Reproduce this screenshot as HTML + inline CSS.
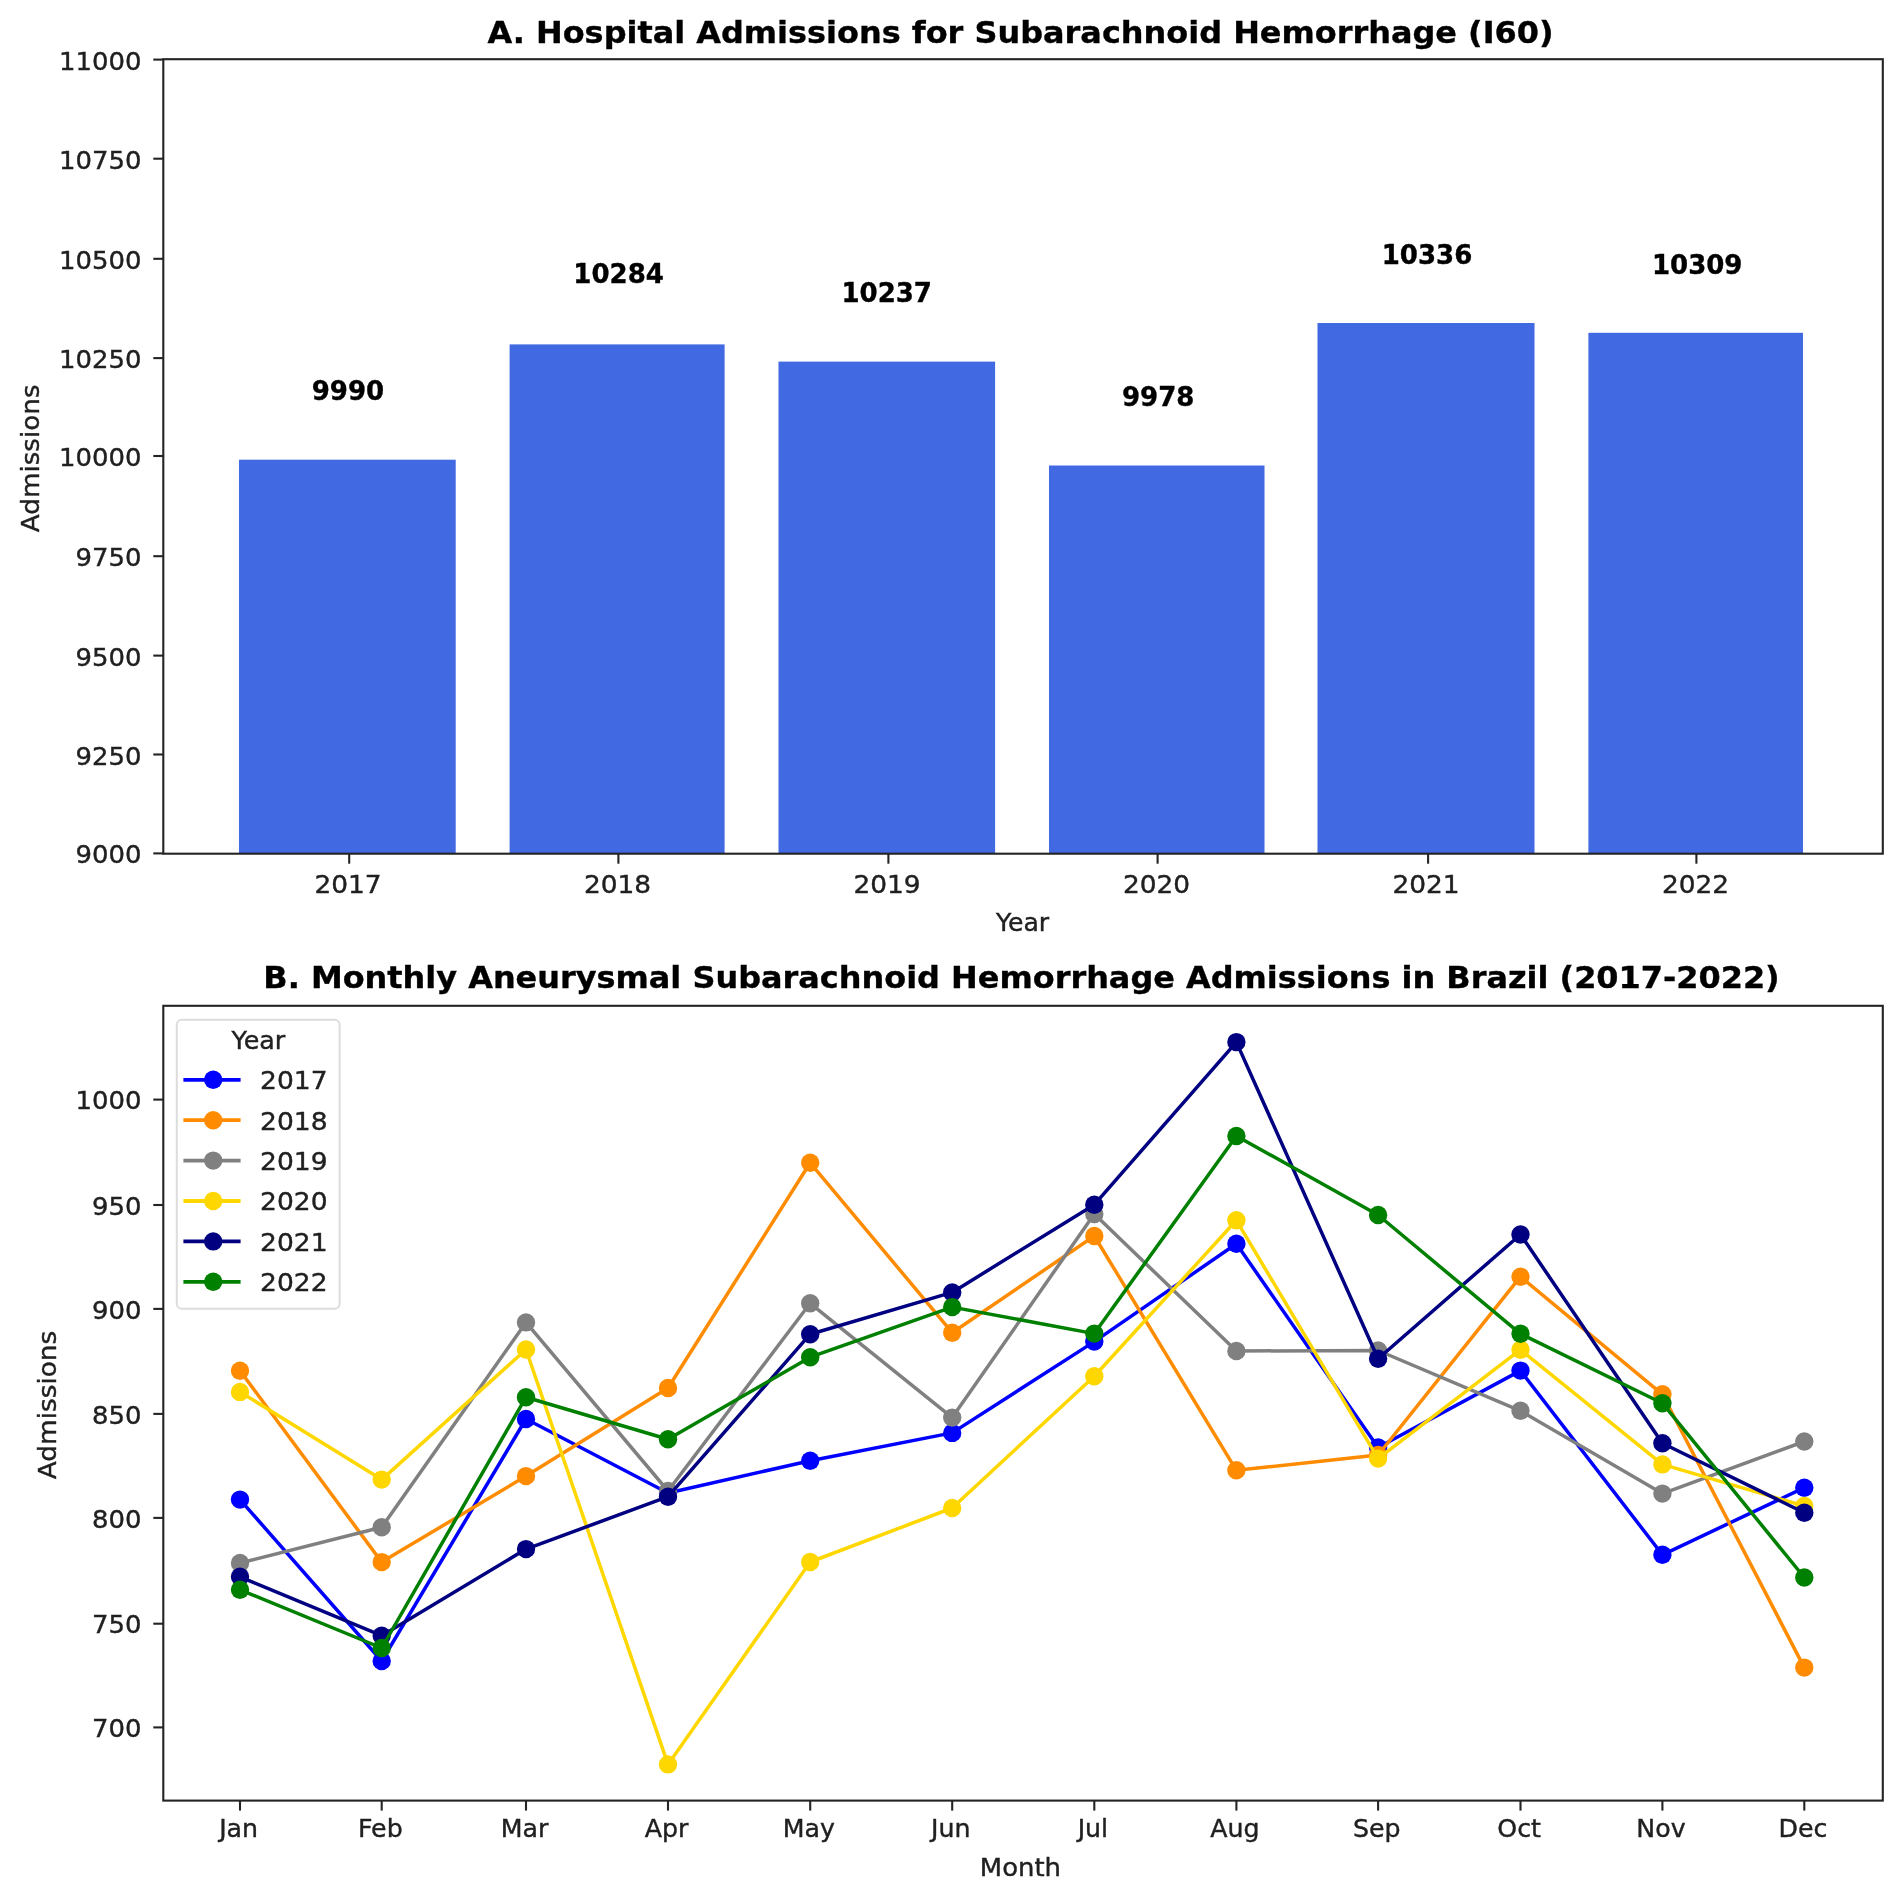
<!DOCTYPE html>
<html lang="en"><head><meta charset="utf-8"><title>Subarachnoid Hemorrhage Admissions</title>
<style>html,body{margin:0;padding:0;background:#fff;overflow:hidden}svg{display:block;filter:blur(0.6px)}</style></head>
<body>
<svg width="1902" height="1887" viewBox="0 0 1902 1887" font-family="'DejaVu Sans', 'Liberation Sans', sans-serif" fill="#202020">
<rect width="1902" height="1887" fill="#ffffff"/>
<g id="panelA">
<rect x="239.0" y="459.7" width="216.7" height="394.0" fill="#4169e1"/>
<rect x="509.6" y="344.4" width="215.0" height="509.3" fill="#4169e1"/>
<rect x="778.5" y="361.6" width="216.6" height="492.1" fill="#4169e1"/>
<rect x="1049.0" y="465.5" width="215.5" height="388.2" fill="#4169e1"/>
<rect x="1317.5" y="323.0" width="217.0" height="530.7" fill="#4169e1"/>
<rect x="1588.4" y="332.8" width="214.6" height="520.9" fill="#4169e1"/>
<rect x="163.3" y="59.2" width="1719.5" height="794.5" fill="none" stroke="#242424" stroke-width="2.1"/>
<line x1="153.3" x2="163.3" y1="853.4" y2="853.4" stroke="#242424" stroke-width="2.1"/>
<text transform="translate(141.5 863.4) scale(1.02 1)" font-size="25.4" text-anchor="end" stroke="#202020" stroke-width="0.4">9000</text>
<line x1="153.3" x2="163.3" y1="754.5" y2="754.5" stroke="#242424" stroke-width="2.1"/>
<text transform="translate(141.5 764.5) scale(1.02 1)" font-size="25.4" text-anchor="end" stroke="#202020" stroke-width="0.4">9250</text>
<line x1="153.3" x2="163.3" y1="655.6" y2="655.6" stroke="#242424" stroke-width="2.1"/>
<text transform="translate(141.5 665.6) scale(1.02 1)" font-size="25.4" text-anchor="end" stroke="#202020" stroke-width="0.4">9500</text>
<line x1="153.3" x2="163.3" y1="556.2" y2="556.2" stroke="#242424" stroke-width="2.1"/>
<text transform="translate(141.5 566.2) scale(1.02 1)" font-size="25.4" text-anchor="end" stroke="#202020" stroke-width="0.4">9750</text>
<line x1="153.3" x2="163.3" y1="456.0" y2="456.0" stroke="#242424" stroke-width="2.1"/>
<text transform="translate(141.5 466.0) scale(1.02 1)" font-size="25.4" text-anchor="end" stroke="#202020" stroke-width="0.4">10000</text>
<line x1="153.3" x2="163.3" y1="358.1" y2="358.1" stroke="#242424" stroke-width="2.1"/>
<text transform="translate(141.5 368.1) scale(1.02 1)" font-size="25.4" text-anchor="end" stroke="#202020" stroke-width="0.4">10250</text>
<line x1="153.3" x2="163.3" y1="258.8" y2="258.8" stroke="#242424" stroke-width="2.1"/>
<text transform="translate(141.5 268.8) scale(1.02 1)" font-size="25.4" text-anchor="end" stroke="#202020" stroke-width="0.4">10500</text>
<line x1="153.3" x2="163.3" y1="158.7" y2="158.7" stroke="#242424" stroke-width="2.1"/>
<text transform="translate(141.5 168.7) scale(1.02 1)" font-size="25.4" text-anchor="end" stroke="#202020" stroke-width="0.4">10750</text>
<line x1="153.3" x2="163.3" y1="59.6" y2="59.6" stroke="#242424" stroke-width="2.1"/>
<text transform="translate(141.5 69.6) scale(1.02 1)" font-size="25.4" text-anchor="end" stroke="#202020" stroke-width="0.4">11000</text>
<line x1="349.2" x2="349.2" y1="853.7" y2="863.7" stroke="#242424" stroke-width="2.1"/>
<text transform="translate(348.0 893.0) scale(1.04 1)" font-size="25.4" text-anchor="middle" stroke="#202020" stroke-width="0.4">2017</text>
<text transform="translate(347.9 399.8) scale(1.01 1)" font-size="25.8" text-anchor="middle" font-weight="bold" fill="#000" stroke="#000" stroke-width="0.35">9990</text>
<line x1="618.4" x2="618.4" y1="853.7" y2="863.7" stroke="#242424" stroke-width="2.1"/>
<text transform="translate(617.5 893.0) scale(1.04 1)" font-size="25.4" text-anchor="middle" stroke="#202020" stroke-width="0.4">2018</text>
<text transform="translate(618.6 283.3) scale(1.01 1)" font-size="25.8" text-anchor="middle" font-weight="bold" fill="#000" stroke="#000" stroke-width="0.35">10284</text>
<line x1="888.4" x2="888.4" y1="853.7" y2="863.7" stroke="#242424" stroke-width="2.1"/>
<text transform="translate(887.0 893.0) scale(1.04 1)" font-size="25.4" text-anchor="middle" stroke="#202020" stroke-width="0.4">2019</text>
<text transform="translate(886.7 302.3) scale(1.01 1)" font-size="25.8" text-anchor="middle" font-weight="bold" fill="#000" stroke="#000" stroke-width="0.35">10237</text>
<line x1="1157.6" x2="1157.6" y1="853.7" y2="863.7" stroke="#242424" stroke-width="2.1"/>
<text transform="translate(1156.5 893.0) scale(1.04 1)" font-size="25.4" text-anchor="middle" stroke="#202020" stroke-width="0.4">2020</text>
<text transform="translate(1158.2 405.6) scale(1.01 1)" font-size="25.8" text-anchor="middle" font-weight="bold" fill="#000" stroke="#000" stroke-width="0.35">9978</text>
<line x1="1428.1" x2="1428.1" y1="853.7" y2="863.7" stroke="#242424" stroke-width="2.1"/>
<text transform="translate(1426.0 893.0) scale(1.04 1)" font-size="25.4" text-anchor="middle" stroke="#202020" stroke-width="0.4">2021</text>
<text transform="translate(1427.0 263.9) scale(1.01 1)" font-size="25.8" text-anchor="middle" font-weight="bold" fill="#000" stroke="#000" stroke-width="0.35">10336</text>
<line x1="1696.4" x2="1696.4" y1="853.7" y2="863.7" stroke="#242424" stroke-width="2.1"/>
<text transform="translate(1695.5 893.0) scale(1.04 1)" font-size="25.4" text-anchor="middle" stroke="#202020" stroke-width="0.4">2022</text>
<text transform="translate(1697.2 273.5) scale(1.01 1)" font-size="25.8" text-anchor="middle" font-weight="bold" fill="#000" stroke="#000" stroke-width="0.35">10309</text>
<text transform="translate(1022.6 931.4) scale(0.99 1)" font-size="25.4" text-anchor="middle" stroke="#202020" stroke-width="0.4">Year</text>
<text transform="translate(39.2 458.3) rotate(-90) scale(1.032 1)" font-size="25.4" text-anchor="middle" stroke="#202020" stroke-width="0.4">Admissions</text>
<text transform="translate(1020.5 43.1) scale(1.047 1)" font-size="30.5" text-anchor="middle" font-weight="bold" fill="#000" stroke="#000" stroke-width="0.35">A. Hospital Admissions for Subarachnoid Hemorrhage (I60)</text>
</g>
<g id="panelB">
<polyline points="240.0,1499.6 381.7,1661.0 526.0,1419.0 668.0,1493.0 810.2,1460.8 952.2,1432.9 1094.3,1341.6 1236.4,1243.8 1378.1,1447.5 1520.5,1370.6 1662.4,1554.8 1804.3,1487.7" fill="none" stroke="#0000ff" stroke-width="3.5" stroke-linejoin="round" stroke-linecap="butt"/>
<circle cx="240.0" cy="1499.6" r="9.2" fill="#0000ff"/>
<circle cx="381.7" cy="1661.0" r="9.2" fill="#0000ff"/>
<circle cx="526.0" cy="1419.0" r="9.2" fill="#0000ff"/>
<circle cx="668.0" cy="1493.0" r="9.2" fill="#0000ff"/>
<circle cx="810.2" cy="1460.8" r="9.2" fill="#0000ff"/>
<circle cx="952.2" cy="1432.9" r="9.2" fill="#0000ff"/>
<circle cx="1094.3" cy="1341.6" r="9.2" fill="#0000ff"/>
<circle cx="1236.4" cy="1243.8" r="9.2" fill="#0000ff"/>
<circle cx="1378.1" cy="1447.5" r="9.2" fill="#0000ff"/>
<circle cx="1520.5" cy="1370.6" r="9.2" fill="#0000ff"/>
<circle cx="1662.4" cy="1554.8" r="9.2" fill="#0000ff"/>
<circle cx="1804.3" cy="1487.7" r="9.2" fill="#0000ff"/>
<polyline points="240.0,1370.7 381.7,1562.1 526.0,1476.1 668.0,1388.0 810.2,1162.8 952.2,1332.7 1094.3,1236.0 1236.4,1470.3 1378.1,1455.0 1520.5,1276.7 1662.4,1394.3 1804.3,1667.6" fill="none" stroke="#ff8c00" stroke-width="3.5" stroke-linejoin="round" stroke-linecap="butt"/>
<circle cx="240.0" cy="1370.7" r="9.2" fill="#ff8c00"/>
<circle cx="381.7" cy="1562.1" r="9.2" fill="#ff8c00"/>
<circle cx="526.0" cy="1476.1" r="9.2" fill="#ff8c00"/>
<circle cx="668.0" cy="1388.0" r="9.2" fill="#ff8c00"/>
<circle cx="810.2" cy="1162.8" r="9.2" fill="#ff8c00"/>
<circle cx="952.2" cy="1332.7" r="9.2" fill="#ff8c00"/>
<circle cx="1094.3" cy="1236.0" r="9.2" fill="#ff8c00"/>
<circle cx="1236.4" cy="1470.3" r="9.2" fill="#ff8c00"/>
<circle cx="1378.1" cy="1455.0" r="9.2" fill="#ff8c00"/>
<circle cx="1520.5" cy="1276.7" r="9.2" fill="#ff8c00"/>
<circle cx="1662.4" cy="1394.3" r="9.2" fill="#ff8c00"/>
<circle cx="1804.3" cy="1667.6" r="9.2" fill="#ff8c00"/>
<polyline points="240.0,1563.0 381.7,1527.3 526.0,1322.4 668.0,1491.0 810.2,1303.3 952.2,1417.6 1094.3,1214.0 1236.4,1351.0 1378.1,1350.5 1520.5,1410.8 1662.4,1493.6 1804.3,1441.5" fill="none" stroke="#808080" stroke-width="3.5" stroke-linejoin="round" stroke-linecap="butt"/>
<circle cx="240.0" cy="1563.0" r="9.2" fill="#808080"/>
<circle cx="381.7" cy="1527.3" r="9.2" fill="#808080"/>
<circle cx="526.0" cy="1322.4" r="9.2" fill="#808080"/>
<circle cx="668.0" cy="1491.0" r="9.2" fill="#808080"/>
<circle cx="810.2" cy="1303.3" r="9.2" fill="#808080"/>
<circle cx="952.2" cy="1417.6" r="9.2" fill="#808080"/>
<circle cx="1094.3" cy="1214.0" r="9.2" fill="#808080"/>
<circle cx="1236.4" cy="1351.0" r="9.2" fill="#808080"/>
<circle cx="1378.1" cy="1350.5" r="9.2" fill="#808080"/>
<circle cx="1520.5" cy="1410.8" r="9.2" fill="#808080"/>
<circle cx="1662.4" cy="1493.6" r="9.2" fill="#808080"/>
<circle cx="1804.3" cy="1441.5" r="9.2" fill="#808080"/>
<polyline points="240.0,1391.9 381.7,1479.6 526.0,1349.5 668.0,1764.4 810.2,1562.0 952.2,1508.0 1094.3,1376.2 1236.4,1220.3 1378.1,1458.6 1520.5,1349.7 1662.4,1464.4 1804.3,1506.0" fill="none" stroke="#ffd700" stroke-width="3.5" stroke-linejoin="round" stroke-linecap="butt"/>
<circle cx="240.0" cy="1391.9" r="9.2" fill="#ffd700"/>
<circle cx="381.7" cy="1479.6" r="9.2" fill="#ffd700"/>
<circle cx="526.0" cy="1349.5" r="9.2" fill="#ffd700"/>
<circle cx="668.0" cy="1764.4" r="9.2" fill="#ffd700"/>
<circle cx="810.2" cy="1562.0" r="9.2" fill="#ffd700"/>
<circle cx="952.2" cy="1508.0" r="9.2" fill="#ffd700"/>
<circle cx="1094.3" cy="1376.2" r="9.2" fill="#ffd700"/>
<circle cx="1236.4" cy="1220.3" r="9.2" fill="#ffd700"/>
<circle cx="1378.1" cy="1458.6" r="9.2" fill="#ffd700"/>
<circle cx="1520.5" cy="1349.7" r="9.2" fill="#ffd700"/>
<circle cx="1662.4" cy="1464.4" r="9.2" fill="#ffd700"/>
<circle cx="1804.3" cy="1506.0" r="9.2" fill="#ffd700"/>
<polyline points="240.0,1576.8 381.7,1635.7 526.0,1549.1 668.0,1496.7 810.2,1334.2 952.2,1292.4 1094.3,1204.7 1236.4,1042.1 1378.1,1358.8 1520.5,1234.5 1662.4,1443.2 1804.3,1512.7" fill="none" stroke="#000080" stroke-width="3.5" stroke-linejoin="round" stroke-linecap="butt"/>
<circle cx="240.0" cy="1576.8" r="9.2" fill="#000080"/>
<circle cx="381.7" cy="1635.7" r="9.2" fill="#000080"/>
<circle cx="526.0" cy="1549.1" r="9.2" fill="#000080"/>
<circle cx="668.0" cy="1496.7" r="9.2" fill="#000080"/>
<circle cx="810.2" cy="1334.2" r="9.2" fill="#000080"/>
<circle cx="952.2" cy="1292.4" r="9.2" fill="#000080"/>
<circle cx="1094.3" cy="1204.7" r="9.2" fill="#000080"/>
<circle cx="1236.4" cy="1042.1" r="9.2" fill="#000080"/>
<circle cx="1378.1" cy="1358.8" r="9.2" fill="#000080"/>
<circle cx="1520.5" cy="1234.5" r="9.2" fill="#000080"/>
<circle cx="1662.4" cy="1443.2" r="9.2" fill="#000080"/>
<circle cx="1804.3" cy="1512.7" r="9.2" fill="#000080"/>
<polyline points="240.0,1589.8 381.7,1648.0 526.0,1397.2 668.0,1439.2 810.2,1357.2 952.2,1307.1 1094.3,1333.6 1236.4,1136.0 1378.1,1215.0 1520.5,1333.8 1662.4,1403.2 1804.3,1577.5" fill="none" stroke="#008000" stroke-width="3.5" stroke-linejoin="round" stroke-linecap="butt"/>
<circle cx="240.0" cy="1589.8" r="9.2" fill="#008000"/>
<circle cx="381.7" cy="1648.0" r="9.2" fill="#008000"/>
<circle cx="526.0" cy="1397.2" r="9.2" fill="#008000"/>
<circle cx="668.0" cy="1439.2" r="9.2" fill="#008000"/>
<circle cx="810.2" cy="1357.2" r="9.2" fill="#008000"/>
<circle cx="952.2" cy="1307.1" r="9.2" fill="#008000"/>
<circle cx="1094.3" cy="1333.6" r="9.2" fill="#008000"/>
<circle cx="1236.4" cy="1136.0" r="9.2" fill="#008000"/>
<circle cx="1378.1" cy="1215.0" r="9.2" fill="#008000"/>
<circle cx="1520.5" cy="1333.8" r="9.2" fill="#008000"/>
<circle cx="1662.4" cy="1403.2" r="9.2" fill="#008000"/>
<circle cx="1804.3" cy="1577.5" r="9.2" fill="#008000"/>
<rect x="163.3" y="1005.8" width="1719.5" height="794.8" fill="none" stroke="#242424" stroke-width="2.1"/>
<line x1="153.3" x2="163.3" y1="1727.4" y2="1727.4" stroke="#242424" stroke-width="2.1"/>
<text transform="translate(141.5 1737.0) scale(1.02 1)" font-size="25.4" text-anchor="end" stroke="#202020" stroke-width="0.4">700</text>
<line x1="153.3" x2="163.3" y1="1623.7" y2="1623.7" stroke="#242424" stroke-width="2.1"/>
<text transform="translate(141.5 1633.3) scale(1.02 1)" font-size="25.4" text-anchor="end" stroke="#202020" stroke-width="0.4">750</text>
<line x1="153.3" x2="163.3" y1="1517.9" y2="1517.9" stroke="#242424" stroke-width="2.1"/>
<text transform="translate(141.5 1527.5) scale(1.02 1)" font-size="25.4" text-anchor="end" stroke="#202020" stroke-width="0.4">800</text>
<line x1="153.3" x2="163.3" y1="1413.9" y2="1413.9" stroke="#242424" stroke-width="2.1"/>
<text transform="translate(141.5 1423.5) scale(1.02 1)" font-size="25.4" text-anchor="end" stroke="#202020" stroke-width="0.4">850</text>
<line x1="153.3" x2="163.3" y1="1308.9" y2="1308.9" stroke="#242424" stroke-width="2.1"/>
<text transform="translate(141.5 1318.5) scale(1.02 1)" font-size="25.4" text-anchor="end" stroke="#202020" stroke-width="0.4">900</text>
<line x1="153.3" x2="163.3" y1="1205.0" y2="1205.0" stroke="#242424" stroke-width="2.1"/>
<text transform="translate(141.5 1214.6) scale(1.02 1)" font-size="25.4" text-anchor="end" stroke="#202020" stroke-width="0.4">950</text>
<line x1="153.3" x2="163.3" y1="1099.6" y2="1099.6" stroke="#242424" stroke-width="2.1"/>
<text transform="translate(141.5 1109.2) scale(1.02 1)" font-size="25.4" text-anchor="end" stroke="#202020" stroke-width="0.4">1000</text>
<line x1="240.0" x2="240.0" y1="1800.6" y2="1810.6" stroke="#242424" stroke-width="2.1"/>
<text transform="translate(238.6 1837.4) scale(0.995 1)" font-size="25.4" text-anchor="middle" stroke="#202020" stroke-width="0.4">Jan</text>
<line x1="381.7" x2="381.7" y1="1800.6" y2="1810.6" stroke="#242424" stroke-width="2.1"/>
<text transform="translate(380.3 1837.4) scale(0.995 1)" font-size="25.4" text-anchor="middle" stroke="#202020" stroke-width="0.4">Feb</text>
<line x1="526.0" x2="526.0" y1="1800.6" y2="1810.6" stroke="#242424" stroke-width="2.1"/>
<text transform="translate(524.6 1837.4) scale(0.995 1)" font-size="25.4" text-anchor="middle" stroke="#202020" stroke-width="0.4">Mar</text>
<line x1="668.0" x2="668.0" y1="1800.6" y2="1810.6" stroke="#242424" stroke-width="2.1"/>
<text transform="translate(666.6 1837.4) scale(0.995 1)" font-size="25.4" text-anchor="middle" stroke="#202020" stroke-width="0.4">Apr</text>
<line x1="810.2" x2="810.2" y1="1800.6" y2="1810.6" stroke="#242424" stroke-width="2.1"/>
<text transform="translate(808.8 1837.4) scale(0.995 1)" font-size="25.4" text-anchor="middle" stroke="#202020" stroke-width="0.4">May</text>
<line x1="952.2" x2="952.2" y1="1800.6" y2="1810.6" stroke="#242424" stroke-width="2.1"/>
<text transform="translate(950.8 1837.4) scale(0.995 1)" font-size="25.4" text-anchor="middle" stroke="#202020" stroke-width="0.4">Jun</text>
<line x1="1094.3" x2="1094.3" y1="1800.6" y2="1810.6" stroke="#242424" stroke-width="2.1"/>
<text transform="translate(1092.9 1837.4) scale(0.995 1)" font-size="25.4" text-anchor="middle" stroke="#202020" stroke-width="0.4">Jul</text>
<line x1="1236.4" x2="1236.4" y1="1800.6" y2="1810.6" stroke="#242424" stroke-width="2.1"/>
<text transform="translate(1235.0 1837.4) scale(0.995 1)" font-size="25.4" text-anchor="middle" stroke="#202020" stroke-width="0.4">Aug</text>
<line x1="1378.1" x2="1378.1" y1="1800.6" y2="1810.6" stroke="#242424" stroke-width="2.1"/>
<text transform="translate(1376.7 1837.4) scale(0.995 1)" font-size="25.4" text-anchor="middle" stroke="#202020" stroke-width="0.4">Sep</text>
<line x1="1520.5" x2="1520.5" y1="1800.6" y2="1810.6" stroke="#242424" stroke-width="2.1"/>
<text transform="translate(1519.1 1837.4) scale(0.995 1)" font-size="25.4" text-anchor="middle" stroke="#202020" stroke-width="0.4">Oct</text>
<line x1="1662.4" x2="1662.4" y1="1800.6" y2="1810.6" stroke="#242424" stroke-width="2.1"/>
<text transform="translate(1661.0 1837.4) scale(0.995 1)" font-size="25.4" text-anchor="middle" stroke="#202020" stroke-width="0.4">Nov</text>
<line x1="1804.3" x2="1804.3" y1="1800.6" y2="1810.6" stroke="#242424" stroke-width="2.1"/>
<text transform="translate(1802.9 1837.4) scale(0.995 1)" font-size="25.4" text-anchor="middle" stroke="#202020" stroke-width="0.4">Dec</text>
<text transform="translate(1020.4 1876.0) scale(1.02 1)" font-size="25.4" text-anchor="middle" stroke="#202020" stroke-width="0.4">Month</text>
<text transform="translate(56.0 1405.0) rotate(-90) scale(1.038 1)" font-size="25.4" text-anchor="middle" stroke="#202020" stroke-width="0.4">Admissions</text>
<text transform="translate(1021.5 987.6) scale(1.047 1)" font-size="30.5" text-anchor="middle" font-weight="bold" fill="#000" stroke="#000" stroke-width="0.35">B. Monthly Aneurysmal Subarachnoid Hemorrhage Admissions in Brazil (2017-2022)</text>
<rect x="176.8" y="1019.8" width="162.8" height="289.0" rx="5" ry="5" fill="#ffffff" fill-opacity="0.8" stroke="#dddddd" stroke-width="2"/>
<text transform="translate(258.4 1048.8) scale(1.0 1)" font-size="25.4" text-anchor="middle" stroke="#202020" stroke-width="0.4">Year</text>
<line x1="183.4" x2="240.6" y1="1079.8" y2="1079.8" stroke="#0000ff" stroke-width="3.8"/>
<circle cx="213.2" cy="1079.8" r="9.2" fill="#0000ff"/>
<text transform="translate(260.0 1089.1) scale(1.045 1)" font-size="25.4" text-anchor="start" stroke="#202020" stroke-width="0.4">2017</text>
<line x1="183.4" x2="240.6" y1="1120.2" y2="1120.2" stroke="#ff8c00" stroke-width="3.8"/>
<circle cx="213.2" cy="1120.2" r="9.2" fill="#ff8c00"/>
<text transform="translate(260.0 1129.5) scale(1.045 1)" font-size="25.4" text-anchor="start" stroke="#202020" stroke-width="0.4">2018</text>
<line x1="183.4" x2="240.6" y1="1160.6" y2="1160.6" stroke="#808080" stroke-width="3.8"/>
<circle cx="213.2" cy="1160.6" r="9.2" fill="#808080"/>
<text transform="translate(260.0 1169.9) scale(1.045 1)" font-size="25.4" text-anchor="start" stroke="#202020" stroke-width="0.4">2019</text>
<line x1="183.4" x2="240.6" y1="1201.0" y2="1201.0" stroke="#ffd700" stroke-width="3.8"/>
<circle cx="213.2" cy="1201.0" r="9.2" fill="#ffd700"/>
<text transform="translate(260.0 1210.3) scale(1.045 1)" font-size="25.4" text-anchor="start" stroke="#202020" stroke-width="0.4">2020</text>
<line x1="183.4" x2="240.6" y1="1241.4" y2="1241.4" stroke="#000080" stroke-width="3.8"/>
<circle cx="213.2" cy="1241.4" r="9.2" fill="#000080"/>
<text transform="translate(260.0 1250.7) scale(1.045 1)" font-size="25.4" text-anchor="start" stroke="#202020" stroke-width="0.4">2021</text>
<line x1="183.4" x2="240.6" y1="1281.8" y2="1281.8" stroke="#008000" stroke-width="3.8"/>
<circle cx="213.2" cy="1281.8" r="9.2" fill="#008000"/>
<text transform="translate(260.0 1291.1) scale(1.045 1)" font-size="25.4" text-anchor="start" stroke="#202020" stroke-width="0.4">2022</text>
</g>
</svg>
</body></html>
